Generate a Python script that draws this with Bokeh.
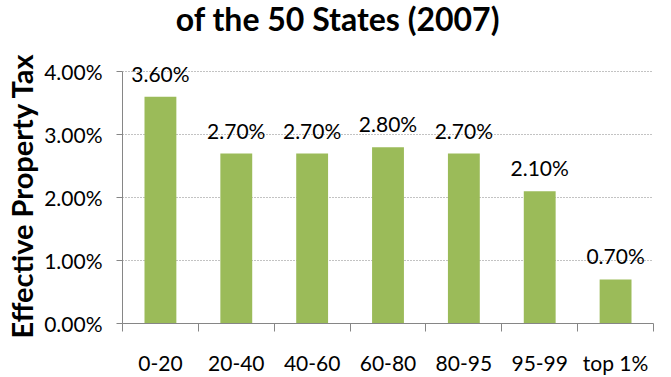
from bokeh.plotting import figure
from bokeh.models import (Range1d, LinearAxis, FixedTicker, Title, Label,
                          PrintfTickFormatter, LabelSet, ColumnDataSource)
from bokeh.core.properties import value
from bokeh.embed import file_html
from bokeh.resources import INLINE

categories = ["0-20", "20-40", "40-60", "60-80", "80-95", "95-99", "top 1%"]
values = [3.6, 2.7, 2.7, 2.8, 2.7, 2.1, 0.7]
bar_labels = ["3.60%", "2.70%", "2.70%", "2.80%", "2.70%", "2.10%", "0.70%"]
y_ticks = [0, 1, 2, 3, 4]
title_text = "of the 50 States (2007)"
y_label = "Effective Property Tax"

FONT = "Lato"
GRAY = "#868686"

n = len(categories)
centers = [i + 0.5 for i in range(n)]
bounds = list(range(n + 1))

src = ColumnDataSource(dict(x=centers, val=values, lbl=bar_labels))

# the frame reaches the top of the page; the title sits inside it, above the 4.00% line
Y_TOP = 5.13
p = figure(width=671, height=377, x_range=Range1d(0, n), y_range=Range1d(0, Y_TOP),
           output_backend="svg", toolbar_location=None, x_axis_location=None,
           min_border_left=122, min_border_right=18, min_border_top=0, min_border_bottom=52)
p.outline_line_color = None
p.background_fill_color = "white"
p.title.text = ""

title = Label(x=2.84, y=4.84, text=title_text, text_align="center", text_baseline="alphabetic",
              text_font=FONT, text_font_size="32px", text_font_style="bold",
              text_color="black")
p.add_layout(title)

p.vbar(x="x", top="val", width=0.42, source=src, fill_color="#9BBB59", line_color=None)

labels = LabelSet(x="x", y="val", text="lbl", source=src, text_align="center",
                  text_baseline="alphabetic", y_offset=15, text_font=value(FONT),
                  text_font_size="21px", text_color="black")
p.add_layout(labels)

ya = p.yaxis[0]
ya.ticker = FixedTicker(ticks=y_ticks)
ya.formatter = PrintfTickFormatter(format="%.2f%%")
ya.bounds = (y_ticks[0], y_ticks[-1])
ya.major_tick_in = 0
ya.major_tick_out = 6
ya.minor_tick_line_color = None
ya.axis_line_color = GRAY
ya.major_tick_line_color = GRAY
ya.major_label_text_font = FONT
ya.major_label_text_font_size = "21px"
ya.major_label_text_color = "black"
ya.major_label_standoff = 14

ytitle = Title(text=y_label, align="left", offset=-15, vertical_align="middle", standoff=3,
               text_font=FONT, text_font_size="29px", text_font_style="bold",
               text_color="black")
p.add_layout(ytitle, "left")

p.ygrid.ticker = FixedTicker(ticks=y_ticks)
p.ygrid.grid_line_color = GRAY
p.ygrid.grid_line_dash = "1 2"
p.xgrid.visible = False

tick_axis = LinearAxis(ticker=FixedTicker(ticks=bounds),
                       major_label_overrides={b: "" for b in bounds},
                       major_label_text_font_size="0px", major_label_standoff=0,
                       major_tick_in=0, major_tick_out=8,
                       minor_tick_line_color=None,
                       axis_line_color=GRAY, major_tick_line_color=GRAY)
p.add_layout(tick_axis, "below")

cat_axis = LinearAxis(ticker=FixedTicker(ticks=centers),
                      major_label_overrides={c: name for c, name in zip(centers, categories)},
                      major_tick_line_color=None, minor_tick_line_color=None,
                      axis_line_color=None,
                      major_label_text_font=FONT, major_label_text_font_size="21px",
                      major_label_text_color="black", major_label_standoff=12)
p.add_layout(cat_axis, "below")

open("out.html", "w").write(file_html(p, INLINE))
